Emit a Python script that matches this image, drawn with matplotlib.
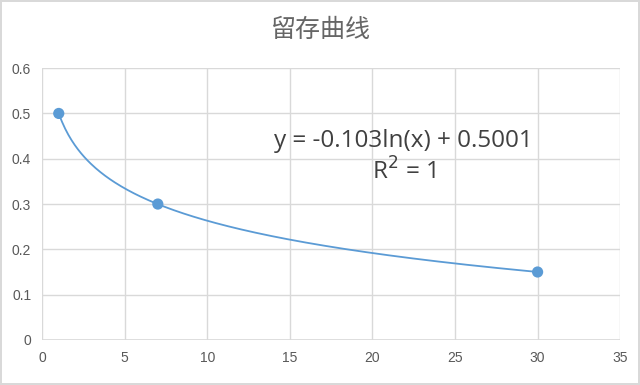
import numpy as np
import matplotlib.pyplot as plt

# retention data points
days = [1, 7, 30]
retention = [0.5, 0.3, 0.15]

x_ticks = [0, 5, 10, 15, 20, 25, 30, 35]
y_ticks = [0, 0.1, 0.2, 0.3, 0.4, 0.5, 0.6]
y_labels = ['0', '0.1', '0.2', '0.3', '0.4', '0.5', '0.6']

title = '留存曲线'
eq_text = 'y = -0.103ln(x) + 0.5001\nR$^2$ = 1'

plt.rcParams['font.family'] = ['Noto Sans CJK SC', 'DejaVu Sans']

blue = '#5B9BD5'
grid_c = '#D9D9D9'
txt_c = '#595959'

fig = plt.figure(figsize=(6.4, 3.85), dpi=100)
fig.patch.set_edgecolor('#D9D9D9')
fig.patch.set_linewidth(1.5)
ax = fig.add_axes([0.066, 0.117, 0.903, 0.706])

# logarithmic trendline fitted on the data (like Excel's)
b, a = np.polyfit(np.log(days), retention, 1)
xs = np.linspace(min(days), max(days), 300)
ax.plot(xs, b * np.log(xs) + a, color=blue, lw=1.3, zorder=3)
ax.scatter(days, retention, s=65, color=blue, zorder=4, edgecolors='none')

ax.set_xlim(0, 35)
ax.set_ylim(0, 0.6)
ax.set_xticks(x_ticks)
ax.set_yticks(y_ticks)
ax.set_yticklabels(y_labels)
ax.grid(True, color=grid_c, lw=1)
ax.set_axisbelow(True)
for s in ax.spines.values():
    s.set_visible(False)
ax.axhline(0, color=grid_c, lw=1.2, zorder=1)
ax.tick_params(length=0, labelsize=10, colors=txt_c, pad=8)
for lbl in ax.get_xticklabels() + ax.get_yticklabels():
    lbl.set_family('Liberation Sans')

fig.text(0.5, 0.922, title, ha='center', va='center', fontsize=18, color='#666666')
ax.text(21.9, 0.403, eq_text, ha='center', va='center', fontsize=17.5,
        color='#404040', linespacing=1.28, family='Open Sans')

fig.savefig('out.png', dpi=100)
